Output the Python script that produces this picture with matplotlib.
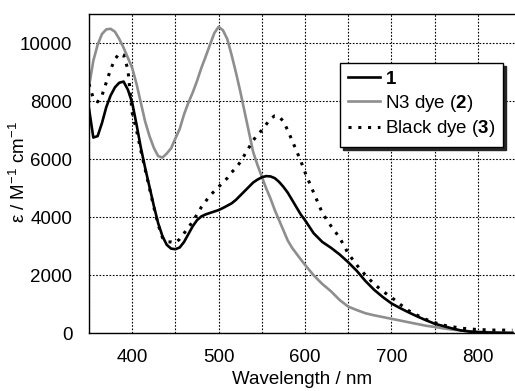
import numpy as np
import matplotlib
matplotlib.use('Agg')
import matplotlib.pyplot as plt
from matplotlib.ticker import MultipleLocator

plt.rcParams['font.family'] = ['Liberation Sans', 'DejaVu Sans']
plt.rcParams['mathtext.fontset'] = 'custom'
plt.rcParams['mathtext.rm'] = 'Liberation Sans'
plt.rcParams['mathtext.bf'] = 'Liberation Sans:bold'
plt.rcParams['mathtext.it'] = 'Liberation Sans:italic'

# wavelength grid (nm)
wavelength = [350, 355, 360, 365, 370, 375, 380, 385, 390, 395,
              400, 405, 410, 415, 420, 425, 430, 435, 440, 445,
              450, 455, 460, 465, 470, 475, 480, 485, 490, 495,
              500, 505, 510, 515, 520, 525, 530, 535, 540, 545,
              550, 555, 560, 565, 570, 575, 580, 585, 590, 595,
              600, 610, 620, 630, 640, 650, 660, 670, 680, 690,
              700, 710, 720, 730, 740, 750, 760, 770, 780, 790,
              800, 810, 820, 830, 840]

# compound 1
eps_1 = [7750, 6750, 6800, 7250, 7800, 8200, 8480, 8640, 8680, 8400,
         7950, 7200, 6400, 5700, 5050, 4400, 3800, 3350, 3050, 2920,
         2900, 2960, 3150, 3420, 3690, 3900, 4030, 4100, 4150, 4200,
         4250, 4320, 4400, 4480, 4600, 4750, 4900, 5050, 5200, 5300,
         5380, 5420, 5410, 5350, 5220, 5050, 4850, 4600, 4350, 4100,
         3900, 3450, 3150, 2950, 2720, 2450, 2150, 1800, 1500, 1250,
         1030, 870, 720, 580, 450, 330, 250, 170, 100, 60,
         40, 30, 20, 15, 10]

# N3 dye (2)
eps_2 = [8500, 9400, 9950, 10320, 10480, 10500, 10400, 10150, 9850, 9500,
         9150, 8600, 7950, 7300, 6800, 6400, 6110, 6060, 6200, 6380,
         6720, 7050, 7550, 7950, 8300, 8700, 9150, 9540, 9950, 10350,
         10570, 10450, 10150, 9600, 9000, 8350, 7650, 6950, 6250, 5800,
         5400, 5000, 4650, 4250, 3900, 3550, 3200, 2950, 2750, 2550,
         2360, 2000, 1700, 1450, 1150, 920, 800, 690, 620, 560,
         500, 440, 380, 320, 260, 220, 170, 130, 100, 70,
         50, 40, 30, 25, 20]

# Black dye (3)
eps_3 = [8600, 8100, 7980, 8200, 8650, 9100, 9450, 9650, 9600, 9100,
         7600, 7000, 6300, 5650, 5000, 4350, 3750, 3300, 3150, 3150,
         3120, 3250, 3450, 3650, 3850, 4100, 4350, 4550, 4750, 4900,
         5050, 5200, 5350, 5550, 5700, 5900, 6150, 6400, 6650, 6850,
         7000, 7200, 7400, 7500, 7480, 7300, 7000, 6650, 6300, 5950,
         5550, 4850, 4150, 3700, 3300, 2750, 2350, 2000, 1700, 1450,
         1240, 1000, 780, 620, 480, 370, 280, 230, 180, 150,
         130, 120, 110, 110, 110]

labels = [r'$\mathbf{1}$', r'N3 dye ($\mathbf{2}$)', r'Black dye ($\mathbf{3}$)']

fig = plt.figure(figsize=(5.15, 3.91), dpi=100)
ax = fig.add_axes([89 / 515, 1 - 333.3 / 391, 1 - 89 / 515, (333.3 - 14.3) / 391])

ax.plot(wavelength, eps_1, color='black', lw=1.9, label=labels[0], zorder=3)
ax.plot(wavelength, eps_2, color='#8e8e8e', lw=1.9, label=labels[1], zorder=2)
ax.plot(wavelength, eps_3, color='black', lw=2.2, linestyle=(0, (1, 2.2)),
        label=labels[2], zorder=4)

ax.set_xlim(350, 843)
ax.set_ylim(0, 11000)
ax.xaxis.set_major_locator(MultipleLocator(100))
ax.xaxis.set_minor_locator(MultipleLocator(50))
ax.yaxis.set_major_locator(MultipleLocator(2000))

grid_style = dict(color='black', lw=0.8, linestyle=(0, (1.5, 1.5)))
ax.grid(True, which='major', **grid_style)
ax.grid(True, which='minor', axis='x', **grid_style)
ax.set_axisbelow(True)

ax.tick_params(which='both', length=0, labelsize=13.5)
ax.tick_params(axis='x', pad=11)
ax.tick_params(axis='y', pad=12)

for s in ['left', 'top', 'bottom']:
    ax.spines[s].set_color('black')
    ax.spines[s].set_linewidth(1.0)
ax.spines['right'].set_visible(False)

ax.set_xlabel('Wavelength / nm', fontsize=13.5, labelpad=4)
ax.set_ylabel('ε / M$^{-1}$ cm$^{-1}$', fontsize=13.5)
ax.yaxis.set_label_coords(-0.14, 0.506)

leg = ax.legend(loc='upper right', bbox_to_anchor=(0.972, 0.846),
                borderaxespad=0, fancybox=False, fontsize=13.5,
                handlelength=1.7, handletextpad=0.3, labelspacing=0.25,
                borderpad=0.4, edgecolor='black',
                shadow={'ox': 2, 'oy': -2, 'color': '0.15', 'alpha': 1})
leg.get_frame().set_linewidth(1.0)

fig.savefig('out.png', dpi=100)
